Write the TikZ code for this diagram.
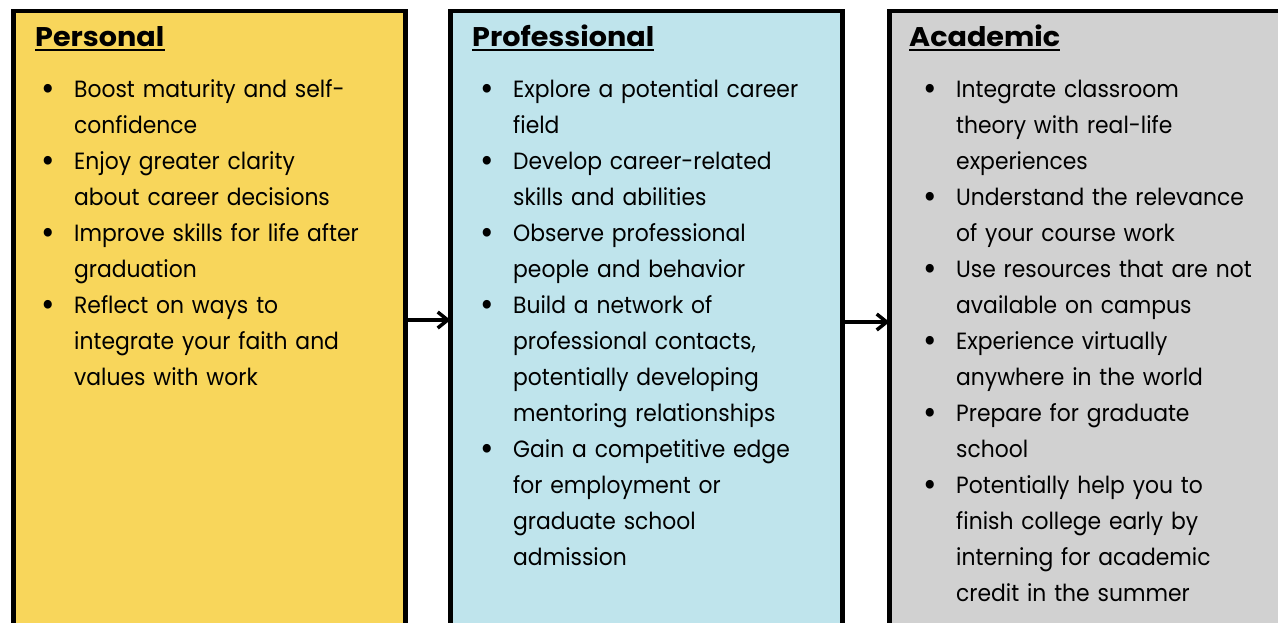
\documentclass[tikz,border=0pt]{standalone}
\usepackage{fontspec}
\setmainfont{Poppins}[FakeStretch=0.93]
\newfontfamily\headfont{Poppins}[FakeStretch=1.06]
\usetikzlibrary{arrows.meta}
\definecolor{cyellow}{HTML}{F8D65B}
\definecolor{cblue}{HTML}{BFE4EC}
\definecolor{cgray}{HTML}{D1D1D1}
\newcommand\bul{\leavevmode\llap{\raisebox{-3.2pt}{\scalebox{1.5}{•}}\hspace{19pt}}}
\begin{document}
\begin{tikzpicture}[x=1pt,y=-1pt,
  colbox/.style={draw=black,line width=4.5pt,outer sep=0pt,inner sep=0pt,anchor=north west,minimum height=640pt},
  head/.style={anchor=base west,inner sep=0pt,font=\headfont\fontsize{27}{30}\selectfont\bfseries},
  body/.style={anchor=base west,inner sep=0pt,text width=380pt,align=left,font=\fontsize{23.5}{36}\selectfont},
  uline/.style={line width=2.5pt},
  conn/.style={line width=4pt,-{Straight Barb[length=10pt,width=16pt,line width=3.5pt]}}]
\useasboundingbox (0,0) rectangle (1278,622);
\clip (0,0) rectangle (1278,622);
\node[colbox,fill=cyellow,minimum width=392pt] (p) at (13.5,11) {};
\node[colbox,fill=cblue,minimum width=392pt] (q) at (450.5,11) {};
\node[colbox,fill=cgray,minimum width=420pt] (r) at (889.5,11) {};
\draw[conn] ([yshift=11pt]p.east) -- ([yshift=11pt]q.west);
\draw[conn] ([yshift=9pt]q.east) -- ([yshift=9pt]r.west);
% headings
\node[head] (hp) at (35,46) {Personal};
\node[head] (hq) at (472,46) {Professional};
\node[head] (hr) at (909,46) {Academic};
\foreach \h in {hp,hq,hr} {\draw[uline] ([yshift=-4pt]\h.base west) -- ([yshift=-4pt]\h.base east);}
% bodies
\node[body] (bp) at (74,97) {\bul Boost maturity and self-\\ confidence\\
\bul Enjoy greater clarity\\ about career decisions\\
\bul Improve skills for life after\\ graduation\\
\bul Reflect on ways to\\ integrate your faith and\\ values with work};
\node[body] (bq) at (513,97) {\bul Explore a potential career\\ field\\
\bul Develop career-related\\ skills and abilities\\
\bul Observe professional\\ people and behavior\\
\bul Build a network of\\ professional contacts,\\ potentially developing\\ mentoring relationships\\
\bul Gain a competitive edge\\ for employment or\\ graduate school\\ admission};
\node[body] (br) at (956,97) {\bul Integrate classroom\\ theory with real-life\\ experiences\\
\bul Understand the relevance\\ of your course work\\
\bul Use resources that are not\\ available on campus\\
\bul Experience virtually\\ anywhere in the world\\
\bul Prepare for graduate\\ school\\
\bul Potentially help you to\\ finish college early by\\ interning for academic\\ credit in the summer};
\end{tikzpicture}
\end{document}
